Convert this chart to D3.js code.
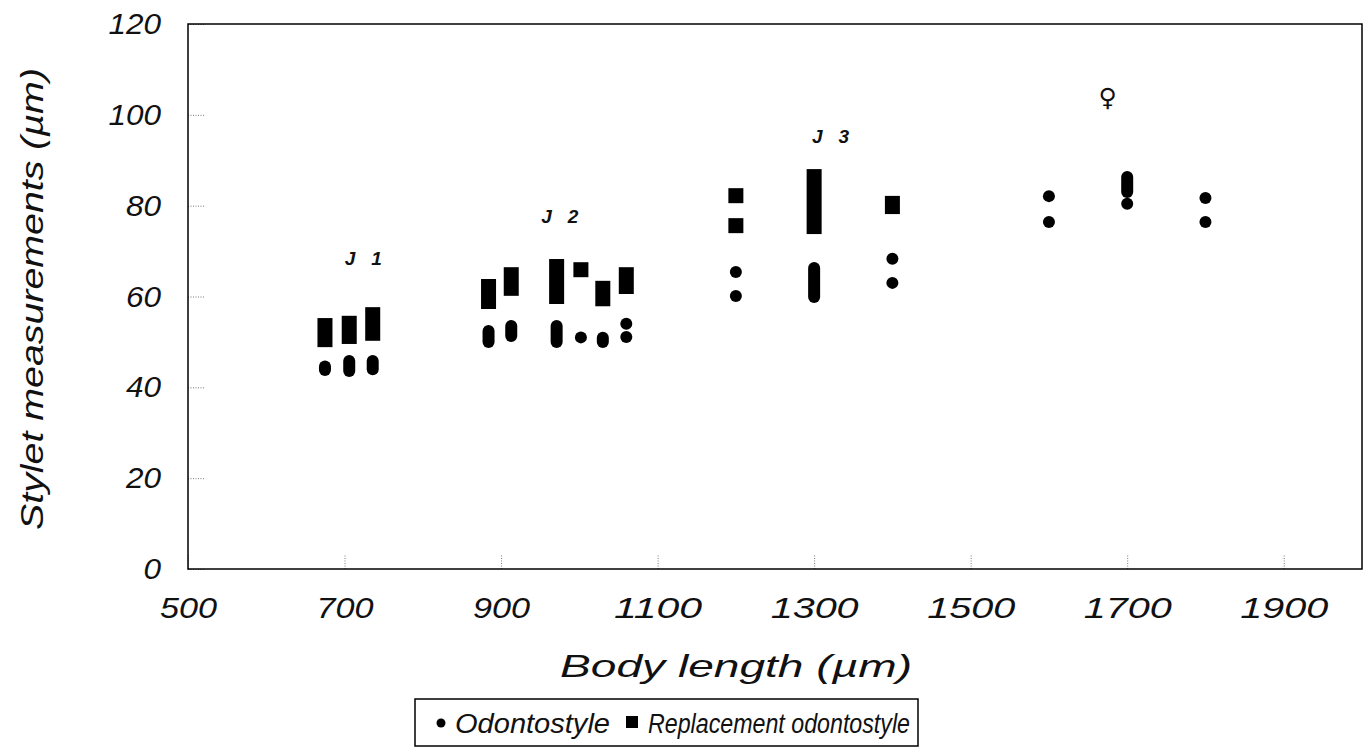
<!DOCTYPE html>
<html>
<head>
<meta charset="utf-8">
<script src="https://cdn.jsdelivr.net/npm/d3@7"></script>
<style>
  body { margin: 0; background: #fff; }
  svg { display: block; }
  text { font-family: "Liberation Sans", Arial, sans-serif; font-style: italic; fill: #111; }
  .stage { font-weight: bold; white-space: pre; }
</style>
</head>
<body>
<svg id="chart"></svg>
<script>
// body length (um) and stylet range (um) for each cluster of marks
const odontoLength = [675, 706, 736, 884, 913, 971, 1002, 1030, 1060, 1060, 1200, 1200, 1300, 1400, 1400, 1600, 1600, 1700, 1700, 1800, 1800]
const odontoLow    = [43.8, 43.6, 44.0, 50.0, 51.3, 50.0, 51.0, 50.0, 51.1, 54.0, 60.1, 65.4, 59.9, 63.0, 68.3, 76.4, 82.1, 80.4, 83.0, 76.4, 81.7]
const odontoHigh   = [44.6, 45.8, 45.8, 52.4, 53.5, 53.5, 51.0, 50.9, 51.1, 54.0, 60.1, 65.4, 66.3, 63.0, 68.3, 76.4, 82.1, 80.4, 86.3, 76.4, 81.7]

const replLength = [675, 706, 736, 884, 913, 971, 1002, 1030, 1060, 1200, 1200, 1300, 1400]
const replLow    = [50.5, 51.2, 51.9, 58.9, 61.8, 60.0, 65.9, 59.5, 62.2, 75.6, 82.2, 75.4, 79.8]
const replHigh   = [53.6, 54.1, 56.0, 62.2, 64.8, 66.6, 65.9, 61.8, 64.8, 75.6, 82.2, 86.4, 80.5]

const stageLabels = ["J   1", "J   2", "J   3", "\u2640"]
const stageX = [724, 975, 1321, 1675]
const stageY = [66.9, 76.2, 93.8, 102]

const xTicks = [500, 700, 900, 1100, 1300, 1500, 1700, 1900]
const yTicks = [0, 20, 40, 60, 80, 100, 120]

const width = 1367, height = 747
const margin = {left: 188, right: 5, top: 24, bottom: 178}

const svg = d3.select("#chart").attr("width", width).attr("height", height)

const x = d3.scaleLinear().domain([500, 2000]).range([margin.left, width - margin.right])
const y = d3.scaleLinear().domain([0, 120]).range([height - margin.bottom, margin.top])

const squareSize = 15
const dotR = 6

// axes with small dotted inward ticks
let xAxis = d3.axisBottom(x).tickValues(xTicks).tickFormat(d3.format("d"))
    .tickSizeInner(-15).tickSizeOuter(0).tickPadding(28)
let yAxis = d3.axisLeft(y).tickValues(yTicks).tickFormat(d3.format("d"))
    .tickSizeInner(-16).tickSizeOuter(0).tickPadding(27)

let gx = svg.append("g").attr("transform", `translate(0, ${y(0)})`).call(xAxis)
let gy = svg.append("g").attr("transform", `translate(${x(500)}, 0)`).call(yAxis)

for (let g of [gx, gy]) {
    g.select(".domain").remove()
    g.selectAll(".tick line").attr("stroke", "#777").attr("stroke-dasharray", "1,1.5")
    g.selectAll(".tick text").attr("font-size", 30).attr("font-family", null).attr("fill", "#111")
}
// the scanned labels are wide, four-digit ones especially
gx.selectAll(".tick text")
    .attr("textLength", d => d >= 1000 ? 88 : 57)
    .attr("lengthAdjust", "spacingAndGlyphs")
gy.selectAll(".tick text").attr("x", -27 / 1.05).attr("transform", "scale(1.05,1)")

// frame
svg.append("rect")
    .attr("x", x(500)).attr("y", y(120))
    .attr("width", x(2000) - x(500)).attr("height", y(0) - y(120))
    .attr("fill", "none").attr("stroke", "#000").attr("stroke-width", 1.5)

// replacement odontostyle: stacked squares -> one bar per range
svg.append("g").selectAll("rect")
    .data(d3.range(replLength.length))
    .join("rect")
    .attr("x", i => x(replLength[i]) - squareSize / 2)
    .attr("y", i => y(replHigh[i]) - squareSize / 2)
    .attr("width", squareSize)
    .attr("height", i => y(replLow[i]) - y(replHigh[i]) + squareSize)
    .attr("fill", "#000")

// odontostyle: dots, overlapping ones merge into pills
svg.append("g").selectAll("rect")
    .data(d3.range(odontoLength.length))
    .join("rect")
    .attr("x", i => x(odontoLength[i]) - dotR)
    .attr("y", i => y(odontoHigh[i]) - dotR)
    .attr("width", dotR * 2)
    .attr("height", i => y(odontoLow[i]) - y(odontoHigh[i]) + dotR * 2)
    .attr("rx", dotR).attr("ry", dotR)
    .attr("fill", "#000")

// stage labels
svg.append("g").selectAll("text")
    .data(stageLabels)
    .join("text")
    .attr("class", "stage")
    .attr("x", (d, i) => x(stageX[i]))
    .attr("y", (d, i) => y(stageY[i]))
    .attr("text-anchor", "middle")
    .attr("font-size", (d, i) => i == 3 ? 25 : 19)
    .style("font-family", (d, i) => i == 3 ? "DejaVu Sans" : null)
    .style("font-weight", (d, i) => i == 3 ? "normal" : "bold")
    .text(d => d)

// axis titles
svg.append("text")
    .attr("x", 560).attr("y", 677)
    .attr("font-size", 32)
    .attr("textLength", 352).attr("lengthAdjust", "spacingAndGlyphs")
    .text("Body length (\u00b5m)")

svg.append("text")
    .attr("transform", "translate(43, 530) rotate(-90)")
    .attr("font-size", 31)
    .attr("textLength", 462).attr("lengthAdjust", "spacingAndGlyphs")
    .text("Stylet measurements (\u00b5m)")

// legend
let legend = svg.append("g")
legend.append("rect")
    .attr("x", 415).attr("y", 699).attr("width", 503).attr("height", 47)
    .attr("fill", "none").attr("stroke", "#000").attr("stroke-width", 1.5)
legend.append("circle").attr("cx", 441).attr("cy", 723).attr("r", 4.5).attr("fill", "#000")
legend.append("text").attr("x", 455).attr("y", 733).attr("font-size", 27)
    .attr("textLength", 155).attr("lengthAdjust", "spacingAndGlyphs").text("Odontostyle")
legend.append("rect").attr("x", 626).attr("y", 716).attr("width", 12).attr("height", 12).attr("fill", "#000")
legend.append("text").attr("x", 648).attr("y", 733).attr("font-size", 27)
    .attr("textLength", 262).attr("lengthAdjust", "spacingAndGlyphs").text("Replacement odontostyle")
</script>
</body>
</html>
